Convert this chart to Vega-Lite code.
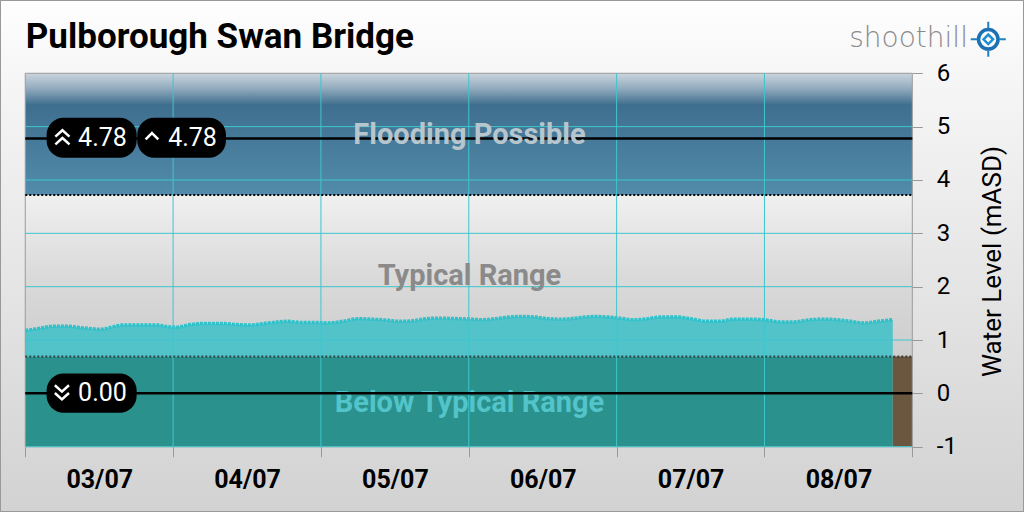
{
  "$schema": "https://vega.github.io/schema/vega-lite/v6.json",
  "width": 1024,
  "height": 512,
  "autosize": {"type": "none"},
  "padding": 0,
  "background": "#ffffff",
  "config": {"view": {"stroke": null}, "font": "Roboto"},
  "encoding": {
    "x": {
      "field": "t",
      "type": "temporal",
      "scale": {
        "domain": [
          {"year": 2023, "month": 7, "date": 2, "hours": 19, "minutes": 54},
          {"year": 2023, "month": 7, "date": 9, "hours": 18, "minutes": 8}
        ],
        "nice": false
      },
      "axis": {
        "orient": "bottom",
        "offset": -65.3,
        "zindex": 1,
        "title": null,
        "domain": false,
        "grid": false,
        "values": [
          {"year": 2023, "month": 7, "date": 3},
          {"year": 2023, "month": 7, "date": 4},
          {"year": 2023, "month": 7, "date": 5},
          {"year": 2023, "month": 7, "date": 6},
          {"year": 2023, "month": 7, "date": 7},
          {"year": 2023, "month": 7, "date": 8},
          {"year": 2023, "month": 7, "date": 9}
        ],
        "tickSize": 10,
        "tickColor": "#999999",
        "tickWidth": 1,
        "labelOffset": 74,
        "labelPadding": 31,
        "labelBaseline": "alphabetic",
        "labelAlign": "center",
        "labelFont": "Roboto",
        "labelFontSize": 25,
        "labelFontWeight": "bold",
        "labelColor": "#000000",
        "labelOverlap": false,
        "labelFlush": false,
        "labelBound": false,
        "labelExpr": "timeFormat(datum.value, '%d') == '09' ? '' : timeFormat(datum.value, '%d/%m')"
      }
    },
    "y": {
      "field": "v",
      "type": "quantitative",
      "scale": {"domain": [-2.224, 7.374], "nice": false, "zero": false},
      "axis": {
        "orient": "right",
        "offset": -111.7,
        "zindex": 1,
        "values": [-1, 0, 1, 2, 3, 4, 5, 6],
        "domain": false,
        "grid": false,
        "tickSize": 10,
        "tickColor": "#999999",
        "labelAlign": "left",
        "labelBaseline": "middle",
        "labelPadding": 14,
        "labelFont": "Roboto",
        "labelFontSize": 24,
        "labelColor": "#000000",
        "labelOverlap": false,
        "labelFlush": false,
        "labelBound": false,
        "labelExpr": "'' + datum.value",
        "title": "Water Level (mASD)",
        "titleAngle": 270,
        "titleX": 88,
        "titleY": 261,
        "titleAlign": "center",
        "titleBaseline": "alphabetic",
        "titleFont": "Roboto",
        "titleFontSize": 26,
        "titleFontWeight": "normal",
        "titleColor": "#000000"
      }
    }
  },
  "layer": [
    {
      "data": {"values": [{"t": "2023-07-02T19:54", "t2": "2023-07-09T18:08", "v": 7.374, "v2": -2.224}], "format": {"parse": {"t": "date", "t2": "date"}}},
      "mark": {"type": "rect", "fill": {"gradient": "linear", "x1": 0, "y1": 0, "x2": 0, "y2": 1, "stops": [{"offset": 0, "color": "#fefefe"}, {"offset": 0.15, "color": "#f6f6f6"}, {"offset": 0.6, "color": "#e3e3e3"}, {"offset": 1, "color": "#d2d2d2"}]}, "stroke": "#999999", "strokeWidth": 2},
      "encoding": {"x2": {"field": "t2"}, "y2": {"field": "v2"}}
    },
    {
      "data": {"values": [{"t": "2023-07-03T00:00", "t2": "2023-07-09T00:00", "v": 6, "v2": 3.72}], "format": {"parse": {"t": "date", "t2": "date"}}},
      "mark": {"type": "rect", "fill": {"gradient": "linear", "x1": 0, "y1": 0, "x2": 0, "y2": 1, "stops": [{"offset": 0, "color": "#cbd5dd"}, {"offset": 0.12, "color": "#94adbf"}, {"offset": 0.26, "color": "#3f6f8e"}, {"offset": 1, "color": "#528bab"}]}},
      "encoding": {"x2": {"field": "t2"}, "y2": {"field": "v2"}}
    },
    {
      "data": {"values": [{"t": "2023-07-03T00:00", "t2": "2023-07-09T00:00", "v": 3.72, "v2": 0.69}], "format": {"parse": {"t": "date", "t2": "date"}}},
      "mark": {"type": "rect", "fill": {"gradient": "linear", "x1": 0, "y1": 0, "x2": 0, "y2": 1, "stops": [{"offset": 0, "color": "#f0f0f0"}, {"offset": 0.5, "color": "#dadada"}, {"offset": 1, "color": "#cdcdcd"}]}},
      "encoding": {"x2": {"field": "t2"}, "y2": {"field": "v2"}}
    },
    {
      "data": {"values": [{"t": "2023-07-03T00:00", "t2": "2023-07-08T20:50", "v": 0.69, "v2": -1}], "format": {"parse": {"t": "date", "t2": "date"}}},
      "mark": {"type": "rect", "fill": "#2a918d"},
      "encoding": {"x2": {"field": "t2"}, "y2": {"field": "v2"}}
    },
    {
      "data": {"values": [{"t": "2023-07-08T20:50", "t2": "2023-07-09T00:00", "v": 0.69, "v2": -1}], "format": {"parse": {"t": "date", "t2": "date"}}},
      "mark": {"type": "rect", "fill": "#6b5640"},
      "encoding": {"x2": {"field": "t2"}, "y2": {"field": "v2"}}
    },
    {
      "data": {"name": "level1", "values": [
        {"t": "2023-07-03T00:00", "v": 1.18}, {"t": "2023-07-03T02:25", "v": 1.22}, {"t": "2023-07-03T04:30", "v": 1.26}, {"t": "2023-07-03T06:50", "v": 1.26},
        {"t": "2023-07-03T08:25", "v": 1.24}, {"t": "2023-07-03T10:05", "v": 1.22}, {"t": "2023-07-03T12:10", "v": 1.2}, {"t": "2023-07-03T14:20", "v": 1.25},
        {"t": "2023-07-03T15:55", "v": 1.28}, {"t": "2023-07-03T18:40", "v": 1.28}, {"t": "2023-07-03T21:25", "v": 1.28}, {"t": "2023-07-03T23:05", "v": 1.25},
        {"t": "2023-07-04T00:40", "v": 1.24}, {"t": "2023-07-04T02:50", "v": 1.29}, {"t": "2023-07-04T04:55", "v": 1.31}, {"t": "2023-07-04T07:40", "v": 1.31},
        {"t": "2023-07-04T10:25", "v": 1.29}, {"t": "2023-07-04T12:30", "v": 1.28}, {"t": "2023-07-04T14:10", "v": 1.3}, {"t": "2023-07-04T16:20", "v": 1.33},
        {"t": "2023-07-04T18:30", "v": 1.35}, {"t": "2023-07-04T20:40", "v": 1.33}, {"t": "2023-07-04T22:50", "v": 1.33}, {"t": "2023-07-05T01:10", "v": 1.32},
        {"t": "2023-07-05T03:30", "v": 1.35}, {"t": "2023-07-05T06:05", "v": 1.4}, {"t": "2023-07-05T08:20", "v": 1.39}, {"t": "2023-07-05T10:55", "v": 1.37},
        {"t": "2023-07-05T12:35", "v": 1.35}, {"t": "2023-07-05T14:50", "v": 1.36}, {"t": "2023-07-05T17:00", "v": 1.4}, {"t": "2023-07-05T19:05", "v": 1.41},
        {"t": "2023-07-05T22:20", "v": 1.4}, {"t": "2023-07-06T00:35", "v": 1.39}, {"t": "2023-07-06T02:10", "v": 1.38}, {"t": "2023-07-06T04:20", "v": 1.4},
        {"t": "2023-07-06T06:25", "v": 1.43}, {"t": "2023-07-06T08:40", "v": 1.44}, {"t": "2023-07-06T10:50", "v": 1.43}, {"t": "2023-07-06T12:55", "v": 1.4},
        {"t": "2023-07-06T15:10", "v": 1.39}, {"t": "2023-07-06T17:20", "v": 1.41}, {"t": "2023-07-06T20:05", "v": 1.44}, {"t": "2023-07-06T22:40", "v": 1.43},
        {"t": "2023-07-07T00:30", "v": 1.41}, {"t": "2023-07-07T02:40", "v": 1.38}, {"t": "2023-07-07T04:25", "v": 1.39}, {"t": "2023-07-07T07:05", "v": 1.43},
        {"t": "2023-07-07T09:55", "v": 1.43}, {"t": "2023-07-07T12:00", "v": 1.4}, {"t": "2023-07-07T14:40", "v": 1.35}, {"t": "2023-07-07T16:50", "v": 1.35},
        {"t": "2023-07-07T18:55", "v": 1.39}, {"t": "2023-07-07T21:40", "v": 1.39}, {"t": "2023-07-07T23:50", "v": 1.38}, {"t": "2023-07-08T02:35", "v": 1.34},
        {"t": "2023-07-08T04:40", "v": 1.34}, {"t": "2023-07-08T07:30", "v": 1.38}, {"t": "2023-07-08T09:35", "v": 1.39}, {"t": "2023-07-08T11:50", "v": 1.38},
        {"t": "2023-07-08T14:00", "v": 1.35}, {"t": "2023-07-08T16:05", "v": 1.32}, {"t": "2023-07-08T18:25", "v": 1.35}, {"t": "2023-07-08T20:50", "v": 1.38}
      ], "format": {"parse": {"t": "date"}}},
      "layer": [
        {"mark": {"type": "area", "fill": "#52c3c9", "interpolate": "monotone"}, "encoding": {"y2": {"datum": 0.69}}},
        {"mark": {"type": "line", "stroke": "#2fc2cb", "strokeWidth": 3.5, "strokeDash": [3, 1], "interpolate": "monotone"}, "encoding": {}}
      ]
    },
    {
      "data": {"values": [{"t": "2023-07-03T00:00", "t2": "2023-07-09T00:00", "v": 6, "v2": -1}], "format": {"parse": {"t": "date", "t2": "date"}}},
      "mark": {"type": "rect", "filled": false, "stroke": "#9a9a9a", "strokeWidth": 1},
      "encoding": {"x2": {"field": "t2"}, "y2": {"field": "v2"}}
    },
    {
      "data": {"values": [
        {"t": "2023-07-03T00:00", "t2": "2023-07-09T00:00", "v": -1},
        {"t": "2023-07-03T00:00", "t2": "2023-07-09T00:00", "v": 1},
        {"t": "2023-07-03T00:00", "t2": "2023-07-09T00:00", "v": 2},
        {"t": "2023-07-03T00:00", "t2": "2023-07-09T00:00", "v": 3},
        {"t": "2023-07-03T00:00", "t2": "2023-07-09T00:00", "v": 4},
        {"t": "2023-07-03T00:00", "t2": "2023-07-09T00:00", "v": 5}
      ], "format": {"parse": {"t": "date", "t2": "date"}}},
      "mark": {"type": "rule", "stroke": "#3ec6ce", "strokeWidth": 1},
      "encoding": {"x2": {"field": "t2"}}
    },
    {
      "data": {"values": [
        {"t": "2023-07-04T00:00", "v": -1, "v2": 6},
        {"t": "2023-07-05T00:00", "v": -1, "v2": 6},
        {"t": "2023-07-06T00:00", "v": -1, "v2": 6},
        {"t": "2023-07-07T00:00", "v": -1, "v2": 6},
        {"t": "2023-07-08T00:00", "v": -1, "v2": 6}
      ], "format": {"parse": {"t": "date"}}},
      "mark": {"type": "rule", "stroke": "#3ec6ce", "strokeWidth": 1},
      "encoding": {"y2": {"field": "v2"}}
    },
    {
      "data": {"values": [{"t": "2023-07-03T00:00", "t2": "2023-07-09T00:00", "v": 3.72}], "format": {"parse": {"t": "date", "t2": "date"}}},
      "mark": {"type": "rule", "stroke": "#000000", "strokeWidth": 2, "strokeDash": [2, 2]},
      "encoding": {"x2": {"field": "t2"}}
    },
    {
      "data": {"values": [{"t": "2023-07-03T00:00", "t2": "2023-07-09T00:00", "v": 0.69}], "format": {"parse": {"t": "date", "t2": "date"}}},
      "mark": {"type": "rule", "stroke": "#000000", "strokeWidth": 2, "strokeDash": [2, 2], "opacity": 0.6},
      "encoding": {"x2": {"field": "t2"}}
    },
    {
      "data": {"values": [{"t": "2023-07-06T00:07", "v": -0.356, "label": "Below Typical Range"}], "format": {"parse": {"t": "date"}}},
      "mark": {"type": "text", "font": "Roboto", "fontSize": 29, "fontWeight": "bold", "align": "center", "baseline": "alphabetic", "color": "#53c4c9"},
      "encoding": {"text": {"field": "label"}}
    },
    {
      "data": {"values": [
        {"t": "2023-07-03T00:00", "t2": "2023-07-09T00:00", "v": 4.78},
        {"t": "2023-07-03T00:00", "t2": "2023-07-09T00:00", "v": 0}
      ], "format": {"parse": {"t": "date", "t2": "date"}}},
      "mark": {"type": "rule", "stroke": "#000000", "strokeWidth": 2.5},
      "encoding": {"x2": {"field": "t2"}}
    },
    {
      "data": {"values": [{"t": "2023-07-06T00:07", "v": 2.031, "label": "Typical Range"}], "format": {"parse": {"t": "date"}}},
      "mark": {"type": "text", "font": "Roboto", "fontSize": 29, "fontWeight": "bold", "align": "center", "baseline": "alphabetic", "color": "#8a8a8a"},
      "encoding": {"text": {"field": "label"}}
    },
    {
      "data": {"values": [{"t": "2023-07-06T00:07", "v": 4.675, "label": "Flooding Possible"}], "format": {"parse": {"t": "date"}}},
      "mark": {"type": "text", "font": "Roboto", "fontSize": 29, "fontWeight": "bold", "align": "center", "baseline": "alphabetic", "color": "#b7c5cd"},
      "encoding": {"text": {"field": "label"}}
    },
    {
      "data": {"values": [
        {"t": "2023-07-03T03:28", "t2": "2023-07-03T18:05", "v": 5.168, "v2": 4.418},
        {"t": "2023-07-03T18:11", "t2": "2023-07-04T08:35", "v": 5.168, "v2": 4.418},
        {"t": "2023-07-03T03:28", "t2": "2023-07-03T18:05", "v": 0.374, "v2": -0.363}
      ], "format": {"parse": {"t": "date", "t2": "date"}}},
      "mark": {"type": "rect", "fill": "#000000", "cornerRadius": 17},
      "encoding": {"x2": {"field": "t2"}, "y2": {"field": "v2"}}
    },
    {
      "data": {"values": [{"t": "2023-07-03T06:02", "v": 4.8}], "format": {"parse": {"t": "date"}}},
      "mark": {"type": "point", "shape": "M-1,-0.1L0,-1L1,-0.1M-1,1L0,0.1L1,1", "filled": false, "stroke": "#ffffff", "strokeWidth": 2.5, "size": 200, "opacity": 1},
      "encoding": {}
    },
    {
      "data": {"values": [{"t": "2023-07-03T20:34", "v": 4.82}], "format": {"parse": {"t": "date"}}},
      "mark": {"type": "point", "shape": "M-1,0.5L0,-0.5L1,0.5", "filled": false, "stroke": "#ffffff", "strokeWidth": 2.5, "size": 160, "opacity": 1},
      "encoding": {}
    },
    {
      "data": {"values": [{"t": "2023-07-03T05:57", "v": 0.02}], "format": {"parse": {"t": "date"}}},
      "mark": {"type": "point", "shape": "M-1,-1L0,-0.1L1,-1M-1,0.1L0,1L1,0.1", "filled": false, "stroke": "#ffffff", "strokeWidth": 2.5, "size": 200, "opacity": 1},
      "encoding": {}
    },
    {
      "data": {"values": [
        {"t": "2023-07-03T12:32", "v": 4.78, "label": "4.78"},
        {"t": "2023-07-04T03:09", "v": 4.78, "label": "4.78"},
        {"t": "2023-07-03T12:32", "v": 0, "label": "0.00"}
      ], "format": {"parse": {"t": "date"}}},
      "mark": {"type": "text", "font": "Roboto", "fontSize": 25, "align": "center", "baseline": "middle", "color": "#ffffff"},
      "encoding": {"text": {"field": "label"}}
    },
    {
      "data": {"values": [{"t": "2023-07-03T00:05", "v": 6.469, "label": "Pulborough Swan Bridge"}], "format": {"parse": {"t": "date"}}},
      "mark": {"type": "text", "font": "Roboto", "fontSize": 35, "fontWeight": "bold", "align": "left", "baseline": "alphabetic", "color": "#000000"},
      "encoding": {"text": {"field": "label"}}
    },
    {
      "data": {"values": [{"t": "2023-07-09T09:02", "v": 6.501, "label": "shoothill"}], "format": {"parse": {"t": "date"}}},
      "mark": {"type": "text", "font": "DejaVu Sans", "fontSize": 28, "fontWeight": 300, "align": "right", "baseline": "alphabetic", "color": "#8a8a8a"},
      "encoding": {"text": {"field": "label"}}
    },
    {
      "data": {"values": [{"t": "2023-07-09T12:20", "v": 6.637}], "format": {"parse": {"t": "date"}}},
      "layer": [
        {"mark": {"type": "point", "shape": "circle", "filled": false, "stroke": "#1b6fb3", "strokeWidth": 3.5, "size": 380, "opacity": 1}, "encoding": {}},
        {"mark": {"type": "point", "shape": "diamond", "filled": false, "stroke": "#1d8ed0", "strokeWidth": 2.5, "size": 90, "opacity": 1}, "encoding": {}},
        {"mark": {"type": "point", "shape": "M0,-1L0,-0.62M0,0.62L0,1M-1,0L-0.62,0M0.62,0L1,0", "filled": false, "stroke": "#1f80c4", "strokeWidth": 2, "size": 1225, "opacity": 1}, "encoding": {}}
      ]
    }
  ]
}
